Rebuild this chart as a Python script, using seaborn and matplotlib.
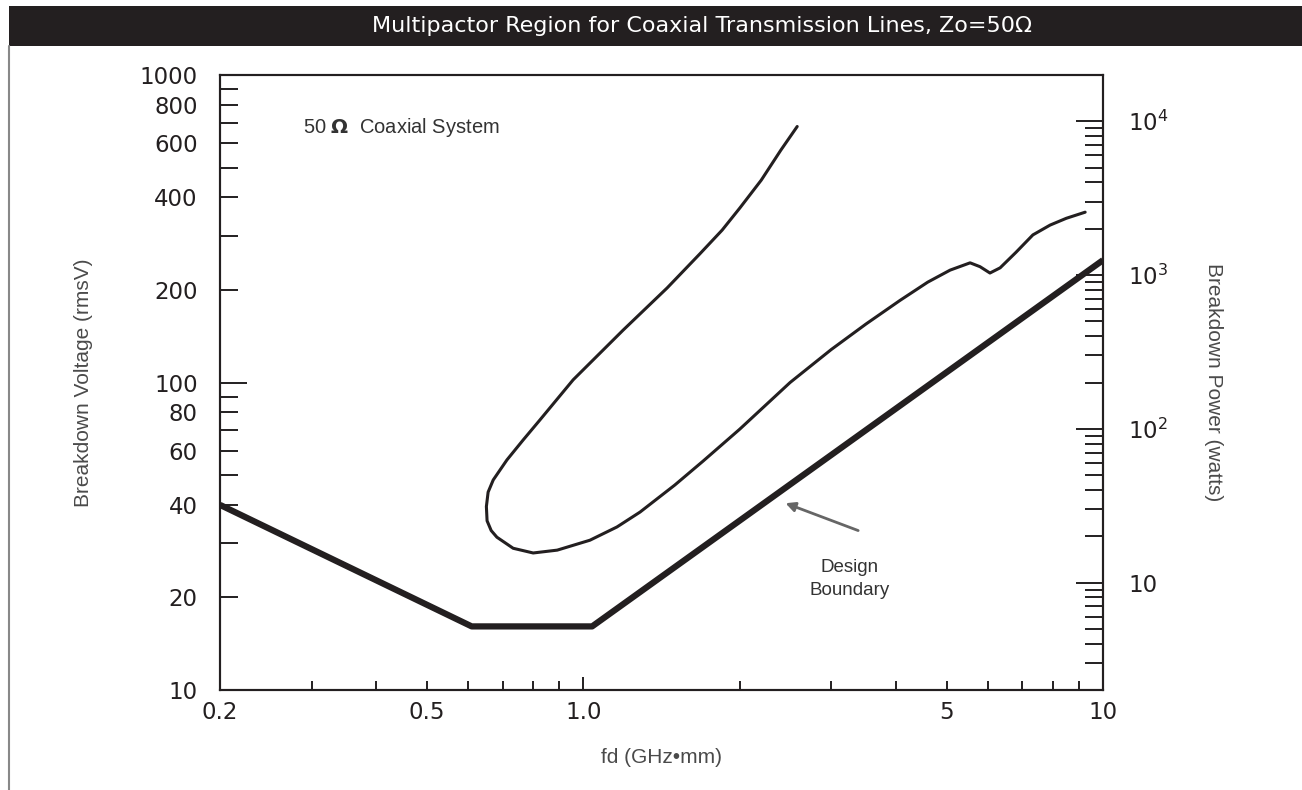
import numpy as np
import pandas as pd
import matplotlib
matplotlib.use("Agg")
import matplotlib.pyplot as plt
import seaborn as sns
from matplotlib.ticker import FixedLocator, FuncFormatter, NullFormatter, LogLocator
from matplotlib.patches import Rectangle
from matplotlib.lines import Line2D

# ---------------- data ----------------
design_fd = [0.2, 0.61, 1.04, 10.0]
design_v = [40.0, 16.1, 16.1, 250.0]

multi_fd = [2.58, 2.4, 2.2, 2.0, 1.85, 1.676, 1.45, 1.193, 0.956, 0.825, 0.766, 0.713,
            0.671, 0.656, 0.651, 0.653, 0.665, 0.682, 0.733, 0.801, 0.891, 1.03, 1.161,
            1.286, 1.5, 1.7, 2.0, 2.5, 3.0, 3.5, 4.07, 4.6, 5.08, 5.55, 5.8, 6.06, 6.34,
            6.8, 7.33, 7.91, 8.5, 9.24]
multi_v = [680, 570, 455, 369, 313, 262, 203, 148, 102, 75.5, 65.0, 56.0,
           48.2, 44.0, 39.5, 35.5, 33.0, 31.4, 28.9, 27.9, 28.5, 30.7, 33.9,
           37.9, 46.4, 55.5, 70.5, 100, 128, 155, 185, 212, 232, 245, 238, 227, 236,
           265, 302, 325, 342, 358]

x_tick_labels = ["0.2", "0.5", "1.0", "5", "10"]
x_label_vals = [0.2, 0.5, 1.0, 5.0, 10.0]
x_minor_vals = [0.3, 0.4, 0.6, 0.7, 0.8, 0.9, 2, 3, 4, 6, 7, 8, 9]
y_label_vals = [10, 20, 40, 60, 80, 100, 200, 400, 600, 800, 1000]
y_minor_vals = [30, 50, 70, 90, 300, 500, 700, 900]
power_label_vals = [10, 100, 1000, 10000]
power_labels = ["10", "$10^2$", "$10^3$", "$10^4$"]

INK = "#231f20"
GRAY = "#4a4a4a"
LABEL_FAMILY = ["Liberation Sans", "DejaVu Sans"]

sns.set_theme(style="white")
plt.rcParams["font.family"] = ["DejaVu Sans"]
plt.rcParams["mathtext.fontset"] = "dejavusans"

W, H = 1302, 790
fig = plt.figure(figsize=(W / 100, H / 100), dpi=100)
ax = fig.add_axes([220 / W, (H - 690) / H, (1103 - 220) / W, (690 - 75) / H])
ax.set_xscale("log")
ax.set_yscale("log")

sns.lineplot(x=multi_fd, y=multi_v, sort=False, estimator=None, ax=ax,
             color=INK, linewidth=2.2)
sns.lineplot(x=design_fd, y=design_v, sort=False, estimator=None, ax=ax,
             color=INK, linewidth=4.5, solid_capstyle="butt")

ax.set_xlim(0.2, 10)
ax.set_ylim(10, 1000)

for s in ax.spines.values():
    s.set_color(INK)
    s.set_linewidth(1.5)

# x ticks
ax.xaxis.set_major_locator(FixedLocator(x_label_vals))
ax.xaxis.set_major_formatter(FuncFormatter(lambda v, p: x_tick_labels[x_label_vals.index(min(x_label_vals, key=lambda t: abs(t - v)))]))
ax.xaxis.set_minor_locator(FixedLocator(x_minor_vals))
ax.xaxis.set_minor_formatter(NullFormatter())
ax.tick_params(axis="x", which="both", direction="in", length=6.5, width=1.4,
               color=INK, bottom=True, top=False, pad=8, labelsize=16.5, labelcolor=INK)

# y ticks left
ax.yaxis.set_major_locator(FixedLocator(y_label_vals))
ax.yaxis.set_major_formatter(FuncFormatter(lambda v, p: f"{v:g}"))
ax.yaxis.set_minor_locator(FixedLocator(y_minor_vals))
ax.yaxis.set_minor_formatter(NullFormatter())
ax.tick_params(axis="y", which="both", direction="in", length=13, width=1.4,
               color=INK, left=True, right=False, pad=16, labelsize=16.5, labelcolor=INK)

ax.set_xlabel("fd (GHz\u2022mm)", fontsize=15, color=GRAY, family=LABEL_FAMILY)
ax.xaxis.set_label_coords(0.5, -0.094)
ax.set_ylabel("Breakdown Voltage (rmsV)", fontsize=15, color=GRAY, family=LABEL_FAMILY)
ax.yaxis.set_label_coords(-0.144, 0.5)

# right axis: power
ax2 = ax.twinx()
ax2.set_yscale("log")
ax2.set_ylim(10 ** 2 / 50, 1000 ** 2 / 50)
ax2.yaxis.set_major_locator(FixedLocator(power_label_vals))
ax2.yaxis.set_major_formatter(FuncFormatter(lambda v, p: power_labels[power_label_vals.index(min(power_label_vals, key=lambda t: abs(t - v)))]))
ax2.yaxis.set_minor_locator(LogLocator(base=10, subs=np.arange(2, 10)))
ax2.yaxis.set_minor_formatter(NullFormatter())
ax2.tick_params(axis="y", which="major", direction="in", length=19.4, width=1.4,
                color=INK, right=True, left=False, pad=18, labelsize=16.5, labelcolor=INK)
ax2.tick_params(axis="y", which="minor", direction="in", length=13, width=1.4,
                color=INK, right=True, left=False)
ax2.set_ylabel("Breakdown Power (watts)", fontsize=15, color=GRAY, rotation=270,
               family=LABEL_FAMILY, va="center")
ax2.yaxis.set_label_coords(1.1246, 0.5)
for s in ax2.spines.values():
    s.set_color(INK)
    s.set_linewidth(1.5)
ax2.grid(False)
ax.grid(False)

# longer ticks at 1.0 and 100
fig.canvas.draw()
for t, v in zip(ax.xaxis.get_major_ticks(), x_label_vals):
    if v == 1.0:
        t.tick1line.set_markersize(9.5)
for t, v in zip(ax.yaxis.get_major_ticks(), y_label_vals):
    if v == 100:
        t.tick1line.set_markersize(19.4)

# annotations
ax.text(0.289, 673, "50 $\\mathbf{\\Omega}$  Coaxial System", ha="left", va="center", fontsize=14.5,
        color="#333333", family=LABEL_FAMILY)
ax.text(3.26, 23.0, "Design\nBoundary", ha="center", va="center", fontsize=13.5,
        color="#333333", linespacing=1.5, family=LABEL_FAMILY)
ax.annotate("", xy=(2.45, 40.5), xytext=(3.38, 33.0),
            arrowprops=dict(arrowstyle="-|>", color="#666666", lw=2, mutation_scale=14,
                            shrinkA=0, shrinkB=0))

# title bar and border
fig.add_artist(Rectangle((9 / W, (H - 46) / H), (W - 9) / W, 40 / H,
                         transform=fig.transFigure, facecolor=INK, edgecolor="none"))
fig.text(702 / W, (H - 26) / H, "Multipactor Region for Coaxial Transmission Lines, Zo=50\u03a9",
         ha="center", va="center", color="white", fontsize=16,
         family=["DejaVu Sans"])
fig.add_artist(Line2D([9 / W, 9 / W], [0, (H - 46) / H], transform=fig.transFigure,
                      color="#888888", linewidth=1.5))

fig.savefig("out.png", dpi=100)
